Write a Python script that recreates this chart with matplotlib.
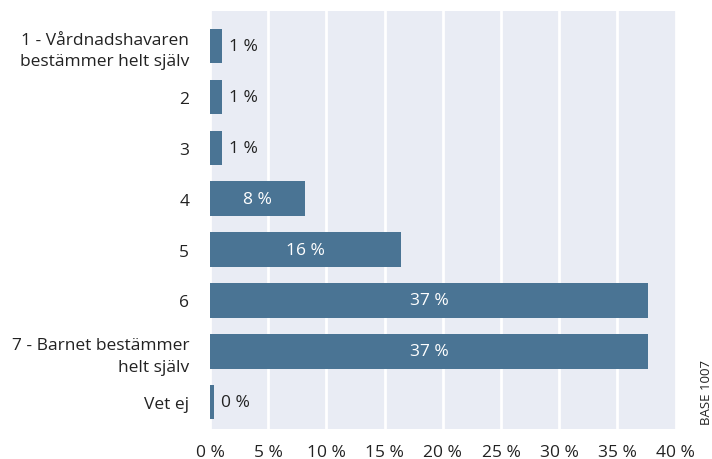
import matplotlib
matplotlib.use("Agg")
import matplotlib.pyplot as plt

categories = ["1 - Vårdnadshavaren\nbestämmer helt själv", "2", "3", "4", "5", "6",
              "7 - Barnet bestämmer\nhelt själv", "Vet ej"]
values = [1.0, 1.0, 1.0, 8.2, 16.4, 37.6, 37.6, 0.3]
value_labels = ["1 %", "1 %", "1 %", "8 %", "16 %", "37 %", "37 %", "0 %"]
xticks = [0, 5, 10, 15, 20, 25, 30, 35, 40]
xtick_labels = [f"{t} %" for t in xticks]
base_note = "BASE 1007"

bar_color = "#4a7494"
bg_color = "#e9ecf4"
text_color = "#222222"

plt.rcParams['font.family'] = ['Open Sans', 'DejaVu Sans']

fig = plt.figure(figsize=(7.12, 4.6), dpi=100)
ax = fig.add_axes([0.295, 0.065, 0.654, 0.909])
ax.set_facecolor(bg_color)

y = list(range(len(categories)))
ax.barh(y, values, height=0.68, color=bar_color, zorder=3)

for yi, v, lab in zip(y, values, value_labels):
    if v > 5:
        ax.text(v / 2, yi, lab, ha="center", va="center", color="white", fontsize=12.5, zorder=4)
    else:
        ax.text(v + 0.6, yi, lab, ha="left", va="center", color=text_color, fontsize=12.5, zorder=4)

ax.set_xlim(0, 40)
ax.set_ylim(7.53, -0.69)
ax.set_xticks(xticks)
ax.set_xticklabels(xtick_labels)
ax.set_yticks(y)
ax.set_yticklabels(categories, ha="right", multialignment="right", linespacing=1.45)
ax.tick_params(axis="both", length=0, labelsize=12.5, colors=text_color)
ax.tick_params(axis="y", pad=15)
ax.tick_params(axis="x", pad=11)
ax.xaxis.grid(True, color="white", linewidth=2, zorder=1)
ax.yaxis.grid(False)
for s in ax.spines.values():
    s.set_visible(False)

fig.text(0.992, 0.075, base_note, rotation=90, ha="center", va="bottom", fontsize=9.5, color=text_color)

fig.savefig("out.png", dpi=100)
